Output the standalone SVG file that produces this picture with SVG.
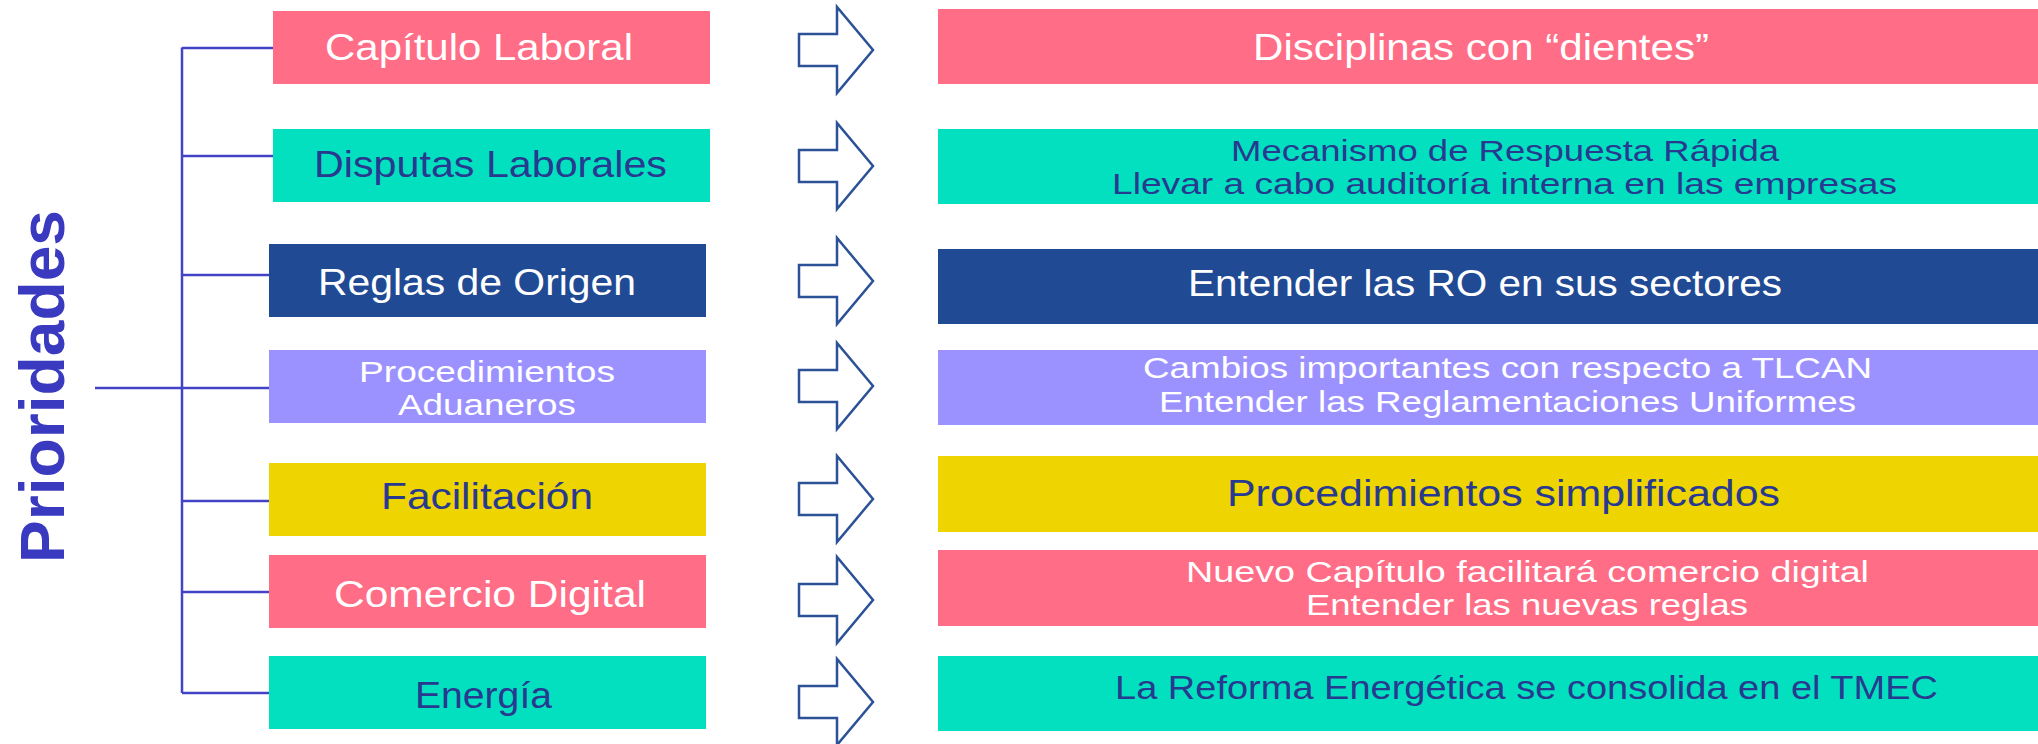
<svg xmlns="http://www.w3.org/2000/svg" width="2038" height="744" viewBox="0 0 2038 744">
<style>
.t{font-family:"Liberation Sans",Arial,sans-serif;font-size:37px}
.s{font-size:29.5px}
.w{fill:#ffffff}
.n{fill:#283a8f}
.pink{fill:#ff6d86}
.teal{fill:#02e0c0}
.navy{fill:#214a94}
.lav{fill:#9c92ff}
.yel{fill:#eed400}
.arr{fill:#ffffff;stroke:#2b5197;stroke-width:2.5;stroke-linejoin:miter}
.ln{stroke:#4343c8;stroke-width:2.5;fill:none}
</style>
<defs>
<path id="arrow" d="M0,-16 H38 V-43 L74,0 L38,43 V16 H0 Z"/>
</defs>
<rect width="2038" height="744" fill="#ffffff"/>

<g id="title">
<text transform="translate(64,563) rotate(-90)" font-family="'Liberation Sans',Arial,sans-serif" font-weight="700" font-size="63" fill="#3a3ac0" textLength="353" lengthAdjust="spacingAndGlyphs">Prioridades</text>
</g>

<g id="connectors">
<path class="ln" d="M182,47.5 V693"/>
<path class="ln" d="M182,48 H273 M182,156 H273 M182,275 H269 M95,388 H269 M182,501 H269 M182,592 H269 M182,693 H269"/>
</g>

<g id="arrows">
<use href="#arrow" class="arr" x="799" y="50"/>
<use href="#arrow" class="arr" x="799" y="166"/>
<use href="#arrow" class="arr" x="799" y="281"/>
<use href="#arrow" class="arr" x="799" y="386"/>
<use href="#arrow" class="arr" x="799" y="499"/>
<use href="#arrow" class="arr" x="799" y="600"/>
<use href="#arrow" class="arr" x="799" y="702"/>
</g>

<g id="node-capitulo">
<rect class="pink" x="273" y="11" width="437" height="73"/>
<text class="t w" x="325" y="60" textLength="308" lengthAdjust="spacingAndGlyphs">Capítulo Laboral</text>
</g>
<g id="node-disputas">
<rect class="teal" x="273" y="129" width="437" height="73"/>
<text class="t n" x="314" y="177" textLength="353" lengthAdjust="spacingAndGlyphs">Disputas Laborales</text>
</g>
<g id="node-reglas">
<rect class="navy" x="269" y="244" width="437" height="73"/>
<text class="t w" x="318" y="295" textLength="318" lengthAdjust="spacingAndGlyphs">Reglas de Origen</text>
</g>
<g id="node-procedimientos">
<rect class="lav" x="269" y="350" width="437" height="73"/>
<text class="t s w" x="359" y="382" textLength="256" lengthAdjust="spacingAndGlyphs">Procedimientos</text>
<text class="t s w" x="398" y="415" textLength="178" lengthAdjust="spacingAndGlyphs">Aduaneros</text>
</g>
<g id="node-facilitacion">
<rect class="yel" x="269" y="463" width="437" height="73"/>
<text class="t n" x="381" y="509" textLength="212" lengthAdjust="spacingAndGlyphs">Facilitación</text>
</g>
<g id="node-comercio">
<rect class="pink" x="269" y="555" width="437" height="73"/>
<text class="t w" x="334" y="607" textLength="312" lengthAdjust="spacingAndGlyphs">Comercio Digital</text>
</g>
<g id="node-energia">
<rect class="teal" x="269" y="656" width="437" height="73"/>
<text class="t n" x="415" y="708" textLength="137" lengthAdjust="spacingAndGlyphs">Energía</text>
</g>

<g id="res-1">
<rect class="pink" x="938" y="9" width="1100" height="75"/>
<text class="t w" x="1253" y="60" textLength="456" lengthAdjust="spacingAndGlyphs">Disciplinas con “dientes”</text>
</g>
<g id="res-2">
<rect class="teal" x="938" y="129" width="1100" height="75"/>
<text class="t s n" x="1231" y="161" textLength="548" lengthAdjust="spacingAndGlyphs">Mecanismo de Respuesta Rápida</text>
<text class="t s n" x="1112" y="194" textLength="785" lengthAdjust="spacingAndGlyphs">Llevar a cabo auditoría interna en las empresas</text>
</g>
<g id="res-3">
<rect class="navy" x="938" y="249" width="1100" height="75"/>
<text class="t w" x="1188" y="296" style="font-size:36px" textLength="594" lengthAdjust="spacingAndGlyphs">Entender las RO en sus sectores</text>
</g>
<g id="res-4">
<rect class="lav" x="938" y="350" width="1100" height="75"/>
<text class="t s w" x="1143" y="378" textLength="729" lengthAdjust="spacingAndGlyphs">Cambios importantes con respecto a TLCAN</text>
<text class="t s w" x="1159" y="412" textLength="697" lengthAdjust="spacingAndGlyphs">Entender las Reglamentaciones Uniformes</text>
</g>
<g id="res-5">
<rect class="yel" x="938" y="456" width="1100" height="76"/>
<text class="t n" x="1227" y="506" style="font-size:36px" textLength="553" lengthAdjust="spacingAndGlyphs">Procedimientos simplificados</text>
</g>
<g id="res-6">
<rect class="pink" x="938" y="550" width="1100" height="76"/>
<text class="t s w" x="1186" y="582" textLength="683" lengthAdjust="spacingAndGlyphs">Nuevo Capítulo facilitará comercio digital</text>
<text class="t s w" x="1306" y="615" textLength="442" lengthAdjust="spacingAndGlyphs">Entender las nuevas reglas</text>
</g>
<g id="res-7">
<rect class="teal" x="938" y="656" width="1100" height="75"/>
<text class="t n" x="1115" y="699" style="font-size:34px" textLength="823" lengthAdjust="spacingAndGlyphs">La Reforma Energética se consolida en el TMEC</text>
</g>
</svg>
